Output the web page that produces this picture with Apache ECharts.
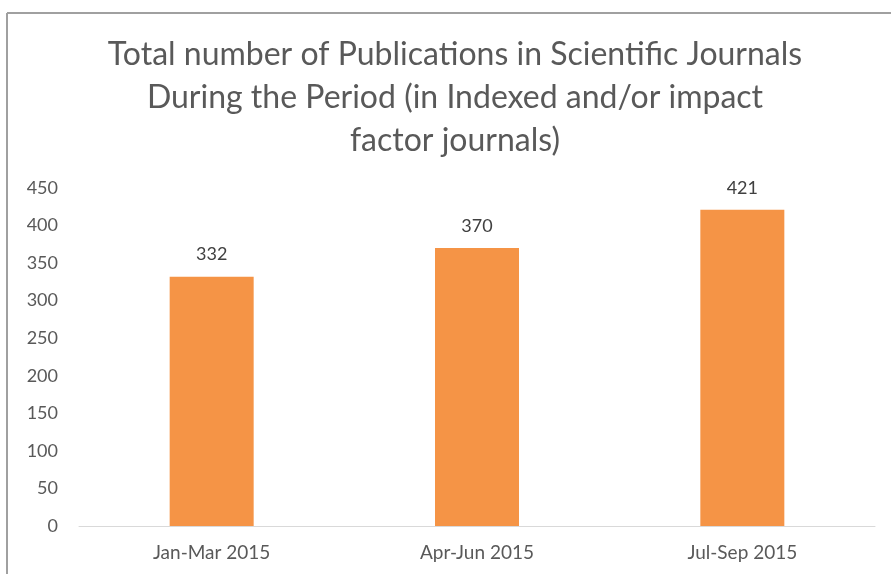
<!DOCTYPE html>
<html>
<head>
<meta charset="utf-8">
<script src="https://cdn.jsdelivr.net/npm/echarts@6/dist/echarts.min.js"></script>
<style>
  html, body { margin: 0; padding: 0; background: #fff; }
  #chart { width: 891px; height: 574px; }
</style>
</head>
<body>
<div id="chart"></div>
<script>
var categories = ['Jan-Mar 2015', 'Apr-Jun 2015', 'Jul-Sep 2015'];
var publications = [332, 370, 421];
var titleLines = [
    'Total number of Publications in Scientific Journals',
    'During the Period (in Indexed and/or impact',
    'factor journals)'
];

var chart = echarts.init(document.getElementById('chart'));
var option = {
    backgroundColor: '#ffffff',
    animation: false,
    title: {
        text: titleLines.join('\n'),
        left: 450,
        top: 28,
        textAlign: 'center',
        textStyle: {
            fontFamily: 'Lato',
            fontWeight: 'normal',
            fontSize: 32,
            lineHeight: 43,
            color: '#595959'
        }
    },
    // chart frame (top and left edges only are visible)
    graphic: [
        { type: 'line', shape: { x1: 7, y1: 13, x2: 891, y2: 13 }, style: { stroke: '#a0a0a0', lineWidth: 2 } },
        { type: 'line', shape: { x1: 7, y1: 13, x2: 7, y2: 574 }, style: { stroke: '#a0a0a0', lineWidth: 2 } }
    ],
    grid: { left: 79, right: 16, top: 188, bottom: 48 },
    xAxis: {
        type: 'category',
        data: categories,
        axisLine: { lineStyle: { color: '#d9d9d9', width: 1 } },
        axisTick: { show: false },
        axisLabel: { color: '#595959', fontSize: 19, fontFamily: 'Lato', margin: 17 }
    },
    yAxis: {
        type: 'value',
        min: 0,
        max: 450,
        interval: 50,
        splitLine: { show: false },
        axisLine: { show: false },
        axisTick: { show: false },
        axisLabel: { color: '#595959', fontSize: 18, fontFamily: 'Lato', margin: 21 }
    },
    series: [{
        type: 'bar',
        data: publications,
        barWidth: 84,
        itemStyle: { color: '#f59446' },
        label: {
            show: true,
            position: 'top',
            distance: 13,
            color: '#404040',
            fontSize: 18,
            fontFamily: 'Lato'
        }
    }]
};
chart.setOption(option);
window.onresize = chart.resize;
</script>
</body>
</html>
